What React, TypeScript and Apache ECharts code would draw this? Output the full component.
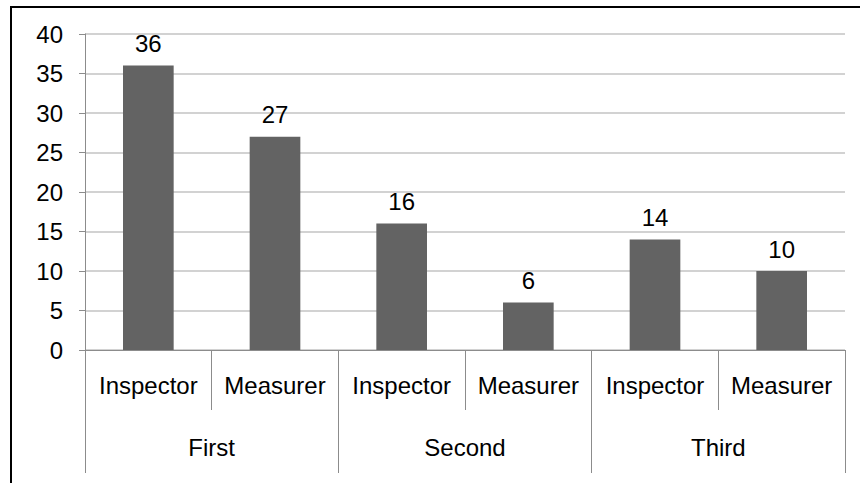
import React, { useEffect, useRef } from "react";
import * as echarts from "echarts";

const roles = ["Inspector", "Measurer", "Inspector", "Measurer", "Inspector", "Measurer"];
const rounds = ["First", "Second", "Third"];
const counts = [36, 27, 16, 6, 14, 10];
const yTicks = { min: 0, max: 40, interval: 5 };

const FONT = "'Liberation Sans', Arial, sans-serif";
const FONT_SIZE = 24;
const AXIS_GRAY = "#8c8c8c";
const GRID_GRAY = "#c3c3c3";

export default function App() {
  const ref = useRef<HTMLDivElement>(null);

  useEffect(() => {
    if (!ref.current) return;
    const chart = echarts.init(ref.current, undefined, { renderer: "svg" });
    chart.setOption({
      animation: false,
      backgroundColor: "#ffffff",
      textStyle: { fontFamily: FONT },
      grid: { left: 85, right: 15, top: 34, bottom: 133 },
      graphic: [
        {
          type: "line",
          shape: { x1: 10, y1: 7, x2: 870, y2: 7 },
          style: { stroke: "#000", lineWidth: 2 },
          z: 100,
        },
        {
          type: "line",
          shape: { x1: 11, y1: 6, x2: 11, y2: 490 },
          style: { stroke: "#000", lineWidth: 2 },
          z: 100,
        },
      ],
      xAxis: [
        {
          type: "category",
          data: roles,
          position: "bottom",
          axisLine: { show: true, lineStyle: { color: AXIS_GRAY, width: 1 } },
          axisTick: {
            show: true,
            interval: 0,
            length: 60,
            lineStyle: { color: AXIS_GRAY },
          },
          axisLabel: {
            interval: 0,
            fontSize: FONT_SIZE,
            color: "#000",
            fontFamily: FONT,
            margin: 23,
          },
        },
        {
          type: "category",
          data: rounds,
          position: "bottom",
          axisLine: { show: false },
          axisTick: {
            show: true,
            interval: 0,
            length: 123,
            lineStyle: { color: AXIS_GRAY },
          },
          axisLabel: {
            interval: 0,
            fontSize: FONT_SIZE,
            color: "#000",
            fontFamily: FONT,
            margin: 85,
          },
        },
      ],
      yAxis: {
        type: "value",
        min: yTicks.min,
        max: yTicks.max,
        interval: yTicks.interval,
        axisLine: { show: true, lineStyle: { color: AXIS_GRAY } },
        axisTick: { show: true, length: 6, lineStyle: { color: AXIS_GRAY } },
        axisLabel: { fontSize: FONT_SIZE, color: "#000", fontFamily: FONT, margin: 22 },
        splitLine: { show: true, lineStyle: { color: GRID_GRAY, width: 1.5 } },
      },
      series: [
        {
          type: "bar",
          xAxisIndex: 0,
          data: counts,
          barWidth: "40%",
          itemStyle: { color: "#636363" },
          label: {
            show: true,
            position: "top",
            distance: 10,
            fontSize: FONT_SIZE,
            color: "#000",
            fontFamily: FONT,
          },
        },
      ],
    });
    return () => chart.dispose();
  }, []);

  return (
    <div
      ref={ref}
      style={{ position: "fixed", left: 0, top: 0, width: 860, height: 483 }}
    />
  );
}
